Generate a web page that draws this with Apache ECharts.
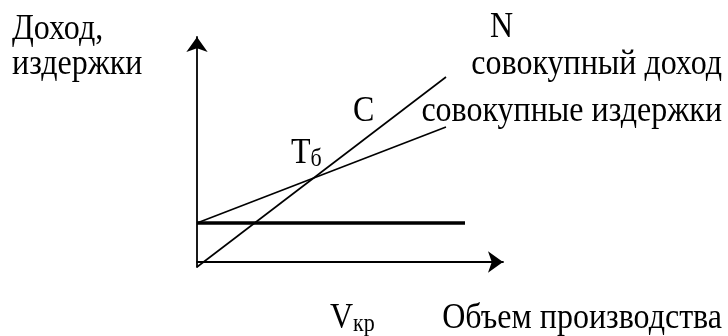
<!DOCTYPE html>
<html>
<head>
<meta charset="utf-8">
<script src="https://cdn.jsdelivr.net/npm/echarts@6/dist/echarts.min.js"></script>
<style>
  html, body {margin: 0; padding: 0; background: #fff;}
  #chart {width: 728px; height: 336px;}
</style>
</head>
<body>
<div id="chart"></div>
<script>
  // данные графика (условные единицы, ноль по оси Y - ось объема)
  var volume = [0, 249];            // объем производства
  var revenue = [-5, 185];          // совокупный доход
  var totalCost = [39, 135];        // совокупные издержки
  var fixedVolume = [0, 268];
  var fixedCost = [39, 39];         // постоянные издержки

  // подписи
  var yTitle = ['Доход,', 'издержки'];
  var xTitle = 'Объем производства';
  var revenueName = 'совокупный доход';
  var costName = 'совокупные издержки';

  function pairs(xs, ys) {
    var res = [];
    xs.forEach(function (x, i) {
      res.push([x, ys[i]]);
    });
    return res;
  }

  var font = '32px "Liberation Serif"';
  var stretch = 1.12; // шрифт в оригинале немного вытянут по вертикали
  var textStyle = function (x, y, text, align) {
    return {
      type: 'text',
      x: x, y: y, scaleY: stretch,
      style: {
        text: text, font: font, fill: '#000',
        textAlign: align || 'left', textVerticalAlign: 'middle'
      }
    };
  };
  // текст с нижним индексом
  var subText = function (x, y, main, sub) {
    return {
      type: 'text',
      x: x, y: y, scaleY: stretch,
      style: {
        text: '{m|' + main + '}{s|' + sub + '}',
        textVerticalAlign: 'bottom',
        fill: '#000',
        rich: {
          m: {font: font, fill: '#000', verticalAlign: 'bottom'},
          s: {font: '22px "Liberation Serif"', fill: '#000', verticalAlign: 'bottom'}
        }
      }
    };
  };

  var myChart = echarts.init(document.getElementById('chart'));
  var option = {
    animation: false,
    backgroundColor: '#fff',
    grid: {left: 197, top: 37, right: 225, bottom: 69},
    xAxis: {
      type: 'value',
      min: 0,
      max: 306,
      axisLine: {
        show: true,
        onZero: true,
        symbol: ['none', 'arrow'],
        symbolSize: [16, 15],
        lineStyle: {color: '#000', width: 1.8}
      },
      axisTick: {show: false},
      axisLabel: {show: false},
      splitLine: {show: false}
    },
    yAxis: {
      type: 'value',
      min: -5,
      max: 225,
      axisLine: {
        show: true,
        onZero: false,
        symbol: ['none', 'arrow'],
        symbolSize: [16, 15],
        lineStyle: {color: '#000', width: 1.8}
      },
      axisTick: {show: false},
      axisLabel: {show: false},
      splitLine: {show: false}
    },
    series: [
      {
        name: revenueName,
        type: 'line',
        symbol: 'none',
        data: pairs(volume, revenue),
        lineStyle: {color: '#000', width: 1.6}
      },
      {
        name: costName,
        type: 'line',
        symbol: 'none',
        data: pairs(volume, totalCost),
        lineStyle: {color: '#000', width: 1.6}
      },
      {
        name: 'постоянные издержки',
        type: 'line',
        symbol: 'none',
        data: pairs(fixedVolume, fixedCost),
        lineStyle: {color: '#000', width: 3.5}
      }
    ],
    graphic: [
      textStyle(12, 30, yTitle[0]),
      textStyle(12, 65, yTitle[1]),
      textStyle(490, 28, 'N'),
      textStyle(722, 65, revenueName, 'right'),
      textStyle(353, 112, 'C'),
      textStyle(722, 112, costName, 'right'),
      subText(291, 172, 'T', 'б'),
      subText(330, 337, 'V', 'кр'),
      textStyle(722, 319, xTitle, 'right')
    ]
  };
  myChart.setOption(option);
</script>
</body>
</html>
